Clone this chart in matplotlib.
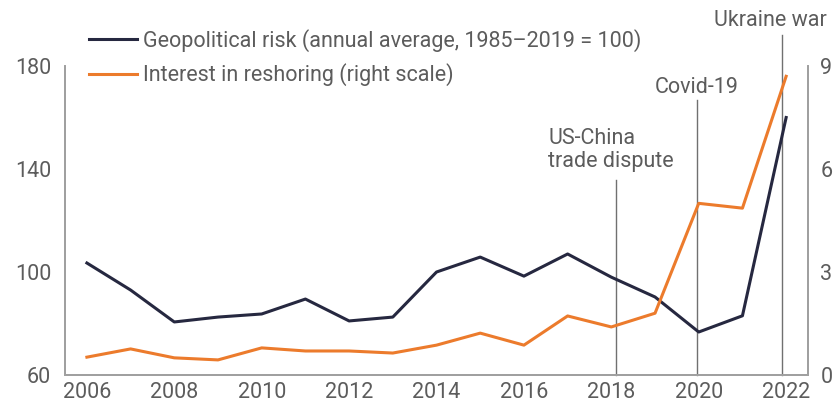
import matplotlib
matplotlib.use("Agg")
from matplotlib import pyplot as plt

plt.rcParams['font.family'] = ['Roboto', 'DejaVu Sans']

years = list(range(2006, 2023))
geo_risk = [103.5, 93, 80.6, 82.5, 83.7, 89.5, 81, 82.5, 100, 105.8, 98.4, 107, 98, 90.3, 76.7, 83, 160]
reshoring = [0.52, 0.76, 0.5, 0.44, 0.79, 0.7, 0.7, 0.64, 0.87, 1.22, 0.87, 1.72, 1.4, 1.8, 5.0, 4.86, 8.7]

# event markers: (x position, top of line in axes fraction, label)
events = [(2018.1, 0.63, "US-China\ntrade dispute"),
          (2019.95, 0.89, "Covid-19"),
          (2021.9, 1.10, "Ukraine war")]

navy = '#262840'
orange = '#ec7b2c'
grey_txt = '#5c5c5c'
grey_line = '#a0a0a0'
fs = 15.5

fig = plt.figure(figsize=(8.36, 4.09), dpi=100)
ax = fig.add_axes([0.0778, 0.0831, 0.8887, 0.7555])
ax2 = ax.twinx()

l_geo, = ax.plot(years, geo_risk, c=navy, linewidth=2.2, zorder=3)
l_res, = ax2.plot(years, reshoring, c=orange, linewidth=2.2, zorder=3)

ax.set_xlim(2005.5, 2022.5)
ax.set_ylim(60, 180)
ax2.set_ylim(0, 9)
ax.set_xticks(range(2006, 2023, 2))
ax.set_yticks([60, 100, 140, 180])
ax2.set_yticks([0, 3, 6, 9])

for a in (ax, ax2):
    a.spines['top'].set_visible(False)
    for side in ('left', 'right', 'bottom'):
        a.spines[side].set_color(grey_line)
        a.spines[side].set_linewidth(1.3)
    a.tick_params(length=0, labelsize=fs, labelcolor=grey_txt)
ax.tick_params(axis='y', pad=10)
ax.tick_params(axis='x', pad=5)
ax2.tick_params(axis='y', pad=9)

for x, top, label in events:
    ax.axvline(x, ymin=0, ymax=top, color='#707070', linewidth=1, clip_on=False, zorder=2)
ax.text(2016.56, 147.5, events[0][2], ha='left', va='center', fontsize=fs,
        color=grey_txt, linespacing=1.12)
ax.text(2019.95, 171.5, events[1][2], ha='center', va='center', fontsize=fs, color=grey_txt)
ax.text(2021.63, 197.5, events[2][2], ha='center', va='center', fontsize=fs,
        color=grey_txt, clip_on=False)

fig.legend(handles=[l_geo, l_res],
           labels=['Geopolitical risk (annual average, 1985\u20132019 = 100)',
                   'Interest in reshoring (right scale)'],
           loc='upper left', bbox_to_anchor=(0.107, 0.93), frameon=False,
           fontsize=fs, handlelength=2.2, handletextpad=0.3, labelspacing=0.55,
           labelcolor=grey_txt, borderaxespad=0, borderpad=0)

fig.savefig('out.png', dpi=100)
